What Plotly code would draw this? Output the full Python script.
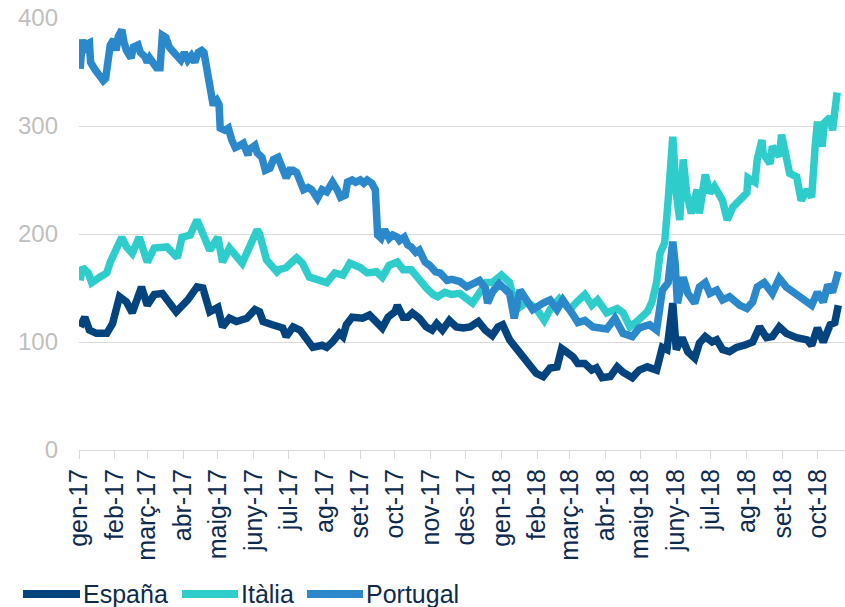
import pandas as pd
import plotly.graph_objects as go

# ---- data (day offset from 2017-01-01, value) ----
start = pd.Timestamp("2017-01-01")

espana_days = [1, 5, 9, 15, 24, 29, 35, 41, 46, 54, 59, 65, 72, 84, 94, 102, 107, 113, 120, 124,
               130, 136, 145, 152, 156, 159, 167, 176, 179, 185, 191, 197, 202, 210, 214, 219, 225,
               228, 231, 236, 245, 251, 257, 262, 267, 273, 275, 280, 284, 288, 294, 300, 305, 309,
               314, 320, 326, 332, 338, 345, 351, 357, 362, 366, 372, 378, 383, 389, 395, 401, 407,
               413, 417, 421, 427, 431, 437, 443, 447, 452, 459, 465, 470, 478, 484, 491, 499, 504,
               508, 513, 516, 521, 526, 532, 536, 541, 547, 551, 556, 562, 568, 575, 582, 588, 594,
               599, 605, 611, 620, 629, 633, 638, 643, 649, 653, 656]
espana_vals = [114, 123, 111, 108, 108, 117, 142, 137, 127, 151, 134, 144, 145, 128, 139, 151, 150,
               128, 132, 114, 122, 119, 122, 130, 128, 119, 116, 113, 105, 114, 111, 102, 95, 97, 95,
               100, 108, 105, 116, 123, 122, 125, 119, 113, 123, 128, 134, 123, 123, 127, 122, 114,
               111, 117, 111, 120, 114, 113, 114, 119, 111, 106, 114, 116, 102, 94, 88, 81, 71, 68,
               76, 77, 94, 91, 86, 80, 80, 74, 76, 67, 68, 77, 72, 67, 74, 77, 74, 95, 93, 136, 93,
               104, 91, 85, 99, 105, 100, 102, 93, 91, 95, 97, 100, 114, 104, 105, 114, 108, 104,
               102, 97, 113, 100, 116, 118, 134]

italia_days = [1, 3, 8, 11, 18, 24, 27, 31, 37, 41, 46, 52, 59, 65, 76, 85, 89, 96, 102, 104, 113,
               120, 124, 130, 141, 149, 154, 156, 162, 171, 173, 179, 188, 193, 199, 208, 214, 221,
               228, 234, 243, 249, 257, 262, 268, 275, 280, 287, 294, 300, 306, 310, 316, 322, 329,
               335, 340, 345, 352, 357, 365, 372, 378, 387, 395, 402, 407, 415, 424, 430, 437, 443,
               448, 456, 465, 470, 476, 483, 491, 495, 499, 502, 506, 509, 513, 516, 519, 522, 525,
               529, 534, 536, 541, 545, 549, 556, 560, 565, 571, 577, 578, 584, 586, 590, 591, 597,
               599, 605, 607, 611, 614, 620, 624, 629, 633, 636, 638, 642, 644, 649, 651, 655]
italia_vals = [157, 169, 164, 155, 160, 164, 174, 185, 197, 188, 182, 197, 174, 187, 188, 178, 197,
               199, 213, 208, 185, 197, 174, 187, 173, 192, 204, 200, 176, 165, 167, 169, 178, 173,
               160, 157, 155, 164, 162, 173, 169, 164, 165, 160, 171, 174, 167, 167, 157, 150, 144,
               142, 146, 144, 145, 139, 136, 144, 155, 155, 162, 155, 130, 137, 131, 120, 130, 140,
               130, 137, 144, 134, 139, 127, 131, 127, 114, 120, 128, 137, 155, 182, 192, 231, 290,
               238, 213, 269, 238, 219, 241, 219, 255, 238, 244, 231, 213, 225, 231, 238, 252, 248,
               269, 287, 275, 265, 281, 272, 292, 275, 256, 253, 231, 241, 234, 281, 304, 281, 303,
               308, 296, 331]

portugal_days = [1, 3, 5, 7, 9, 10, 14, 18, 21, 23, 25, 27, 30, 32, 34, 37, 39, 41, 45, 47, 51, 53,
                 57, 59, 61, 64, 67, 70, 72, 75, 78, 82, 85, 88, 91, 94, 97, 100, 103, 106, 108,
                 110, 112, 114, 116, 117, 119, 121, 122, 126, 129, 132, 135, 139, 142, 146, 147,
                 152, 154, 158, 161, 165, 168, 172, 175, 179, 182, 185, 188, 191, 194, 198, 201,
                 206, 210, 214, 219, 223, 226, 230, 232, 236, 239, 243, 246, 249, 253, 256, 257,
                 258, 261, 264, 268, 271, 275, 277, 281, 284, 287, 291, 294, 299, 303, 308, 312,
                 318, 322, 329, 335, 340, 346, 351, 353, 357, 363, 372, 376, 381, 387, 392, 401,
                 407, 413, 418, 427, 431, 437, 444, 456, 463, 470, 478, 484, 493, 499, 502, 504,
                 509, 513, 515, 517, 522, 526, 532, 536, 541, 545, 551, 556, 562, 571, 577, 582,
                 586, 592, 599, 605, 611, 618, 625, 633, 638, 643, 647, 651, 656]
portugal_vals = [353, 380, 368, 376, 377, 359, 352, 346, 342, 344, 363, 375, 380, 370, 383, 389, 377,
                 370, 363, 373, 375, 368, 364, 359, 363, 359, 354, 354, 384, 382, 373, 368, 363,
                 361, 368, 361, 365, 359, 368, 370, 368, 356, 341, 324, 319, 322, 324, 320, 298,
                 296, 298, 287, 280, 282, 284, 273, 278, 282, 275, 271, 259, 261, 269, 271, 264,
                 252, 259, 259, 257, 250, 241, 243, 241, 233, 241, 239, 248, 241, 234, 236, 248,
                 250, 248, 250, 247, 250, 247, 241, 218, 199, 196, 204, 196, 199, 197, 194, 197,
                 190, 188, 183, 185, 174, 171, 165, 164, 157, 158, 156, 151, 154, 157, 150, 136,
                 146, 154, 145, 122, 148, 139, 130, 136, 139, 130, 139, 125, 118, 120, 114, 112,
                 122, 108, 105, 113, 116, 111, 132, 148, 155, 193, 173, 136, 160, 145, 136, 151,
                 155, 145, 148, 139, 142, 134, 131, 137, 151, 155, 145, 159, 151, 145, 139, 134,
                 146, 137, 153, 146, 165]

month_starts = ["2017-01-01", "2017-02-01", "2017-03-01", "2017-04-01", "2017-05-01", "2017-06-01",
                "2017-07-01", "2017-08-01", "2017-09-01", "2017-10-01", "2017-11-01", "2017-12-01",
                "2018-01-01", "2018-02-01", "2018-03-01", "2018-04-01", "2018-05-01", "2018-06-01",
                "2018-07-01", "2018-08-01", "2018-09-01", "2018-10-01"]
month_labels = ["gen-17", "feb-17", "març-17", "abr-17", "maig-17", "juny-17", "jul-17", "ag-17",
                "set-17", "oct-17", "nov-17", "des-17", "gen-18", "feb-18", "març-18", "abr-18",
                "maig-18", "juny-18", "jul-18", "ag-18", "set-18", "oct-18"]

series_names = ["España", "Itàlia", "Portugal"]
series_colors = ["#03447F", "#2ECDCC", "#2B88CB"]

def to_dates(days):
    return start + pd.to_timedelta(days, unit="D")

series = [(espana_days, espana_vals), (italia_days, italia_vals), (portugal_days, portugal_vals)]

FONT = "Liberation Sans, Arial, sans-serif"
TEXT = "#0E2A4F"

fig = go.Figure()
for (d, v), name, col in zip(series, series_names, series_colors):
    fig.add_trace(go.Scatter(x=to_dates(d), y=v, mode="lines", name=name,
                             line=dict(color=col, width=7.5), showlegend=False))

# custom legend (long line symbols)
L, W = 79, 766
def px2paper(px):
    return (px - L) / W
leg_y = (450 - 594) / 432
leg_x = [(23, 80), (182, 238), (307, 363)]
for (a, b), name, col in zip(leg_x, series_names, series_colors):
    fig.add_shape(type="line", xref="paper", yref="paper", x0=px2paper(a), x1=px2paper(b),
                  y0=leg_y, y1=leg_y, line=dict(color=col, width=8))
    fig.add_annotation(xref="paper", yref="paper", x=px2paper(b + 1), y=leg_y, text=name,
                       showarrow=False, xanchor="left", yanchor="middle",
                       font=dict(family=FONT, size=25, color=TEXT))

fig.update_layout(
    width=845, height=607,
    margin=dict(l=79, r=0, t=18, b=157, autoexpand=False),
    paper_bgcolor="white", plot_bgcolor="white",
    font=dict(family=FONT),
    hovermode=False,
)
fig.update_xaxes(type="date", range=["2017-01-01", "2018-10-24T19:00"], automargin=False,
                 tickvals=month_starts, ticktext=month_labels, tickangle=-90,
                 tickfont=dict(family=FONT, size=25, color=TEXT),
                 ticks="outside", ticklen=8, tickcolor="#D9D9D9", tickwidth=1,
                 showline=True, linecolor="#D9D9D9", linewidth=1, showgrid=False,
                 zeroline=False)
fig.update_yaxes(range=[0, 400], tickvals=[0, 100, 200, 300, 400], automargin=False,
                 tickfont=dict(family=FONT, size=24, color="#BFBFBF"),
                 showgrid=True, gridcolor="#D9D9D9", gridwidth=1, zeroline=False,
                 showline=False, ticks="", ticklabelstandoff=20)

fig.write_html("out.html", config={"displayModeBar": False, "staticPlot": True},
               post_script="document.body.style.margin='0';document.body.style.overflow='hidden';")
